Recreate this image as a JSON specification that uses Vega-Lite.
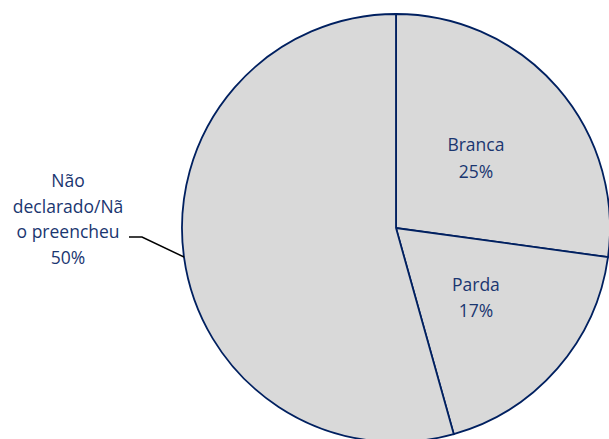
{
  "$schema": "https://vega.github.io/schema/vega-lite/v6.json",
  "autosize": "none",
  "width": 426,
  "height": 422,
  "padding": {"left": 183, "top": 17, "right": 0, "bottom": 0},
  "background": "white",
  "config": {"view": {"stroke": null}},
  "datasets": {
    "pie": [
      {"idx": 1, "cat": "Branca", "value": 25, "label": ["Branca", "25%"]},
      {"idx": 2, "cat": "Parda", "value": 17, "label": ["Parda", "17%"]},
      {"idx": 3, "cat": "Não declarado/Não preencheu", "value": 50, "label": ["Não", "declarado/Nã", "o preencheu", "50%"]}
    ],
    "leader": [
      {"p": 1, "lx": -212, "ly": -29},
      {"p": 2, "lx": -254, "ly": -9},
      {"p": 3, "lx": -267, "ly": -9}
    ]
  },
  "layer": [
    {
      "data": {"name": "pie"},
      "mark": {"type": "arc", "radius": 214, "fill": "#d9d9d9", "stroke": "#002060", "strokeWidth": 1.8},
      "encoding": {
        "theta": {"field": "value", "type": "quantitative", "stack": true},
        "order": {"field": "idx", "type": "quantitative"}
      }
    },
    {
      "data": {"name": "pie"},
      "mark": {"type": "text", "radius": 106, "dy": -12, "fontSize": 17.5, "font": "Open Sans", "fill": "#1a3670", "lineHeight": 26.5, "baseline": "middle", "align": "center"},
      "encoding": {
        "theta": {"field": "value", "type": "quantitative", "stack": true},
        "order": {"field": "idx", "type": "quantitative"},
        "text": {"condition": {"test": "datum.idx < 3", "field": "label"}, "value": ""}
      }
    },
    {
      "data": {"name": "pie"},
      "mark": {"type": "text", "radius": 331, "dy": -91, "fontSize": 17.5, "font": "Open Sans", "fill": "#1a3670", "lineHeight": 25.5, "baseline": "middle", "align": "center"},
      "encoding": {
        "theta": {"field": "value", "type": "quantitative", "stack": true},
        "order": {"field": "idx", "type": "quantitative"},
        "text": {"condition": {"test": "datum.idx === 3", "field": "label"}, "value": ""}
      }
    },
    {
      "data": {"name": "leader"},
      "mark": {"type": "line", "stroke": "black", "strokeWidth": 1.5, "clip": false},
      "encoding": {
        "x": {"field": "lx", "type": "quantitative", "scale": {"domain": [-213, 213], "nice": false, "zero": false}, "axis": null},
        "y": {"field": "ly", "type": "quantitative", "scale": {"domain": [-211, 211], "nice": false, "zero": false}, "axis": null},
        "order": {"field": "p", "type": "quantitative"}
      }
    }
  ]
}
